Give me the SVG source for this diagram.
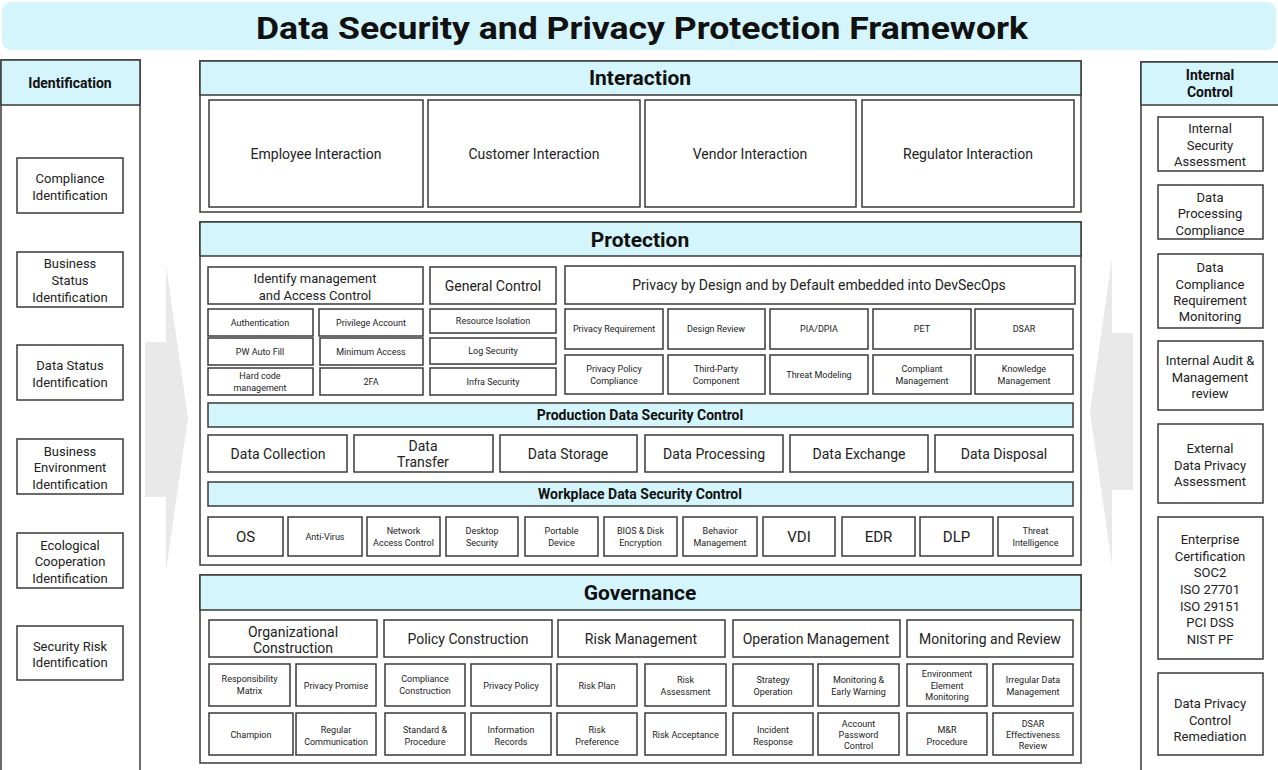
<svg xmlns="http://www.w3.org/2000/svg" width="1278" height="770" viewBox="0 0 1278 770">
<style>
.box{fill:#fff;stroke:#3a3a3a;stroke-width:1.5}
.hdr{fill:#d4f5fb;stroke:#3a3a3a;stroke-width:1.5}
.t{font-family:Roboto,"Liberation Sans",sans-serif;fill:#222;text-anchor:middle;dominant-baseline:central}
.b{font-weight:bold;fill:#111}
.s9{font-size:9px}
.s13{font-size:13px}
.s14{font-size:14px}
.s15{font-size:15px}
.h20{font-size:21px;font-weight:bold;fill:#111}
.arrow{fill:#e9e9e9}
</style>
<rect width="1278" height="770" fill="#fff"/>
<g id="connectors">
<polygon class="arrow" points="145,342 166,342 166,265 188,418 166,571 166,497 145,497"/>
<polygon class="arrow" points="1133,333 1112,333 1112,258 1090,412 1112,565 1112,490 1133,490"/>
</g>
<g id="title">
<rect x="2" y="2" width="1274" height="48" rx="9" fill="#d4f5fb"/>
<text class="t b" x="642" y="28" font-size="32" textLength="772" lengthAdjust="spacingAndGlyphs">Data Security and Privacy Protection Framework</text>
</g>
<g id="identification">
<rect class="box" x="1" y="60" width="139" height="715"/>
<rect class="hdr" x="1" y="60" width="139" height="45"/>
<text class="t b s14" x="70" y="83">Identification</text>
<g id="id-compliance"><rect class="box" x="17" y="158" width="106" height="55"/><text class="t s13"><tspan x="70" y="178">Compliance</tspan><tspan x="70" y="195">Identification</tspan></text></g>
<g id="id-business-status"><rect class="box" x="17" y="252" width="106" height="55"/><text class="t s13"><tspan x="70" y="263">Business</tspan><tspan x="70" y="280">Status</tspan><tspan x="70" y="297">Identification</tspan></text></g>
<g id="id-data-status"><rect class="box" x="17" y="345" width="106" height="55"/><text class="t s13"><tspan x="70" y="365">Data Status</tspan><tspan x="70" y="382">Identification</tspan></text></g>
<g id="id-business-env"><rect class="box" x="17" y="439" width="106" height="55"/><text class="t s13"><tspan x="70" y="451">Business</tspan><tspan x="70" y="467">Environment</tspan><tspan x="70" y="484">Identification</tspan></text></g>
<g id="id-ecological"><rect class="box" x="17" y="533" width="106" height="55"/><text class="t s13"><tspan x="70" y="545">Ecological</tspan><tspan x="70" y="561">Cooperation</tspan><tspan x="70" y="578">Identification</tspan></text></g>
<g id="id-security-risk"><rect class="box" x="17" y="626" width="106" height="54"/><text class="t s13"><tspan x="70" y="646">Security Risk</tspan><tspan x="70" y="662">Identification</tspan></text></g>
</g>
<g id="internal-control">
<rect class="box" x="1141" y="62" width="140" height="715"/>
<rect class="hdr" x="1141" y="62" width="140" height="43"/>
<text class="t b s14"><tspan x="1210" y="75">Internal</tspan><tspan x="1210" y="92">Control</tspan></text>
<g id="ic-1"><rect class="box" x="1158" y="117" width="105" height="54"/><text class="t s13"><tspan x="1210" y="128">Internal</tspan><tspan x="1210" y="145">Security</tspan><tspan x="1210" y="161">Assessment</tspan></text></g>
<g id="ic-2"><rect class="box" x="1158" y="185" width="105" height="54"/><text class="t s13"><tspan x="1210" y="197">Data</tspan><tspan x="1210" y="213">Processing</tspan><tspan x="1210" y="230">Compliance</tspan></text></g>
<g id="ic-3"><rect class="box" x="1158" y="254" width="105" height="74"/><text class="t s13"><tspan x="1210" y="267">Data</tspan><tspan x="1210" y="284">Compliance</tspan><tspan x="1210" y="300">Requirement</tspan><tspan x="1210" y="316">Monitoring</tspan></text></g>
<g id="ic-4"><rect class="box" x="1158" y="341" width="105" height="69"/><text class="t s13"><tspan x="1210" y="360">Internal Audit &amp;</tspan><tspan x="1210" y="377">Management</tspan><tspan x="1210" y="393">review</tspan></text></g>
<g id="ic-5"><rect class="box" x="1158" y="424" width="105" height="79"/><text class="t s13"><tspan x="1210" y="448">External</tspan><tspan x="1210" y="465">Data Privacy</tspan><tspan x="1210" y="481">Assessment</tspan></text></g>
<g id="ic-6"><rect class="box" x="1158" y="517" width="105" height="142"/><text class="t s13"><tspan x="1210" y="539">Enterprise</tspan><tspan x="1210" y="556">Certification</tspan><tspan x="1210" y="572">SOC2</tspan><tspan x="1210" y="589">ISO 27701</tspan><tspan x="1210" y="606">ISO 29151</tspan><tspan x="1210" y="622">PCI DSS</tspan><tspan x="1210" y="639">NIST PF</tspan></text></g>
<g id="ic-7"><rect class="box" x="1158" y="673" width="105" height="82"/><text class="t s13"><tspan x="1210" y="703">Data Privacy</tspan><tspan x="1210" y="720">Control</tspan><tspan x="1210" y="736">Remediation</tspan></text></g>
</g>
<g id="interaction">
<rect class="box" x="200" y="61" width="881" height="151"/>
<rect class="hdr" x="200" y="61" width="881" height="34"/>
<text class="t h20" x="640" y="78">Interaction</text>
<g id="int-employee"><rect class="box" x="209" y="100" width="214" height="107"/><text class="t s14" x="316" y="154">Employee Interaction</text></g>
<g id="int-customer"><rect class="box" x="428" y="100" width="212" height="107"/><text class="t s14" x="534" y="154">Customer Interaction</text></g>
<g id="int-vendor"><rect class="box" x="645" y="100" width="211" height="107"/><text class="t s14" x="750" y="154">Vendor Interaction</text></g>
<g id="int-regulator"><rect class="box" x="862" y="100" width="212" height="107"/><text class="t s14" x="968" y="154">Regulator Interaction</text></g>
</g>
<g id="protection">
<rect class="box" x="200" y="222" width="881" height="343"/>
<rect class="hdr" x="200" y="222" width="881" height="34"/>
<text class="t h20" x="640" y="240">Protection</text>
<g id="iam"><rect class="box" x="208" y="267" width="215" height="37"/><text class="t s13"><tspan x="315" y="278">Identify management</tspan><tspan x="315" y="295">and Access Control</tspan></text></g>
<g id="general-control"><rect class="box" x="430" y="267" width="126" height="37"/><text class="t s14" x="493" y="286">General Control</text></g>
<g id="pbd"><rect class="box" x="565" y="266" width="510" height="38"/><text class="t s14" x="819" y="285">Privacy by Design and by Default embedded into DevSecOps</text></g>
<g id="authentication"><rect class="box" x="208" y="309" width="105" height="27"/><text class="t s9" x="260" y="322.5">Authentication</text></g>
<g id="privilege-account"><rect class="box" x="319" y="309" width="104" height="27"/><text class="t s9" x="371" y="322.5">Privilege Account</text></g>
<g id="pw-auto-fill"><rect class="box" x="208" y="338" width="105" height="27"/><text class="t s9" x="260" y="352">PW Auto Fill</text></g>
<g id="minimum-access"><rect class="box" x="320" y="338" width="103" height="27"/><text class="t s9" x="371" y="352">Minimum Access</text></g>
<g id="hard-code"><rect class="box" x="208" y="368" width="105" height="27"/><text class="t s9"><tspan x="260" y="376">Hard code</tspan><tspan x="260" y="388">management</tspan></text></g>
<g id="twofa"><rect class="box" x="320" y="368" width="103" height="27"/><text class="t s9" x="371" y="381.5">2FA</text></g>
<g id="resource-isolation"><rect class="box" x="430" y="309" width="126" height="24"/><text class="t s9" x="493" y="321">Resource Isolation</text></g>
<g id="log-security"><rect class="box" x="430" y="338" width="126" height="26"/><text class="t s9" x="493" y="351">Log Security</text></g>
<g id="infra-security"><rect class="box" x="430" y="368" width="126" height="27"/><text class="t s9" x="493" y="381.5">Infra Security</text></g>
<g id="privacy-requirement"><rect class="box" x="565" y="309" width="98" height="40"/><text class="t s9" x="614" y="329">Privacy Requirement</text></g>
<g id="design-review"><rect class="box" x="668" y="309" width="97" height="40"/><text class="t s9" x="716" y="329">Design Review</text></g>
<g id="pia-dpia"><rect class="box" x="770" y="309" width="98" height="40"/><text class="t s9" x="819" y="329">PIA/DPIA</text></g>
<g id="pet"><rect class="box" x="873" y="309" width="98" height="40"/><text class="t s9" x="922" y="329">PET</text></g>
<g id="dsar"><rect class="box" x="975" y="309" width="98" height="40"/><text class="t s9" x="1024" y="329">DSAR</text></g>
<g id="privacy-policy-compliance"><rect class="box" x="565" y="355" width="98" height="39"/><text class="t s9"><tspan x="614" y="369">Privacy Policy</tspan><tspan x="614" y="381">Compliance</tspan></text></g>
<g id="third-party"><rect class="box" x="668" y="355" width="97" height="39"/><text class="t s9"><tspan x="716" y="369">Third-Party</tspan><tspan x="716" y="381">Component</tspan></text></g>
<g id="threat-modeling"><rect class="box" x="770" y="355" width="98" height="39"/><text class="t s9" x="819" y="375">Threat Modeling</text></g>
<g id="compliant-management"><rect class="box" x="873" y="355" width="98" height="39"/><text class="t s9"><tspan x="922" y="369">Compliant</tspan><tspan x="922" y="381">Management</tspan></text></g>
<g id="knowledge-management"><rect class="box" x="975" y="355" width="98" height="39"/><text class="t s9"><tspan x="1024" y="369">Knowledge</tspan><tspan x="1024" y="381">Management</tspan></text></g>
<g id="production-bar"><rect class="hdr" x="208" y="403" width="865" height="24"/><text class="t b s14" x="640" y="415">Production Data Security Control</text></g>
<g id="data-collection"><rect class="box" x="208" y="435" width="139" height="37"/><text class="t s14" x="278" y="454">Data Collection</text></g>
<g id="data-transfer"><rect class="box" x="354" y="435" width="139" height="37"/><text class="t s14"><tspan x="423" y="446">Data</tspan><tspan x="423" y="462">Transfer</tspan></text></g>
<g id="data-storage"><rect class="box" x="500" y="435" width="137" height="37"/><text class="t s14" x="568" y="454">Data Storage</text></g>
<g id="data-processing"><rect class="box" x="645" y="435" width="138" height="37"/><text class="t s14" x="714" y="454">Data Processing</text></g>
<g id="data-exchange"><rect class="box" x="790" y="435" width="138" height="37"/><text class="t s14" x="859" y="454">Data Exchange</text></g>
<g id="data-disposal"><rect class="box" x="935" y="435" width="138" height="37"/><text class="t s14" x="1004" y="454">Data Disposal</text></g>
<g id="workplace-bar"><rect class="hdr" x="208" y="482" width="865" height="24"/><text class="t b s14" x="640" y="494">Workplace Data Security Control</text></g>
<g id="os"><rect class="box" x="208" y="517" width="75" height="39"/><text class="t s15" x="245.5" y="537">OS</text></g>
<g id="anti-virus"><rect class="box" x="288" y="517" width="74" height="39"/><text class="t s9" x="325" y="537">Anti-Virus</text></g>
<g id="nac"><rect class="box" x="367" y="517" width="73" height="39"/><text class="t s9"><tspan x="403.5" y="531">Network</tspan><tspan x="403.5" y="543">Access Control</tspan></text></g>
<g id="desktop-security"><rect class="box" x="446" y="517" width="72" height="39"/><text class="t s9"><tspan x="482" y="531">Desktop</tspan><tspan x="482" y="543">Security</tspan></text></g>
<g id="portable-device"><rect class="box" x="525" y="517" width="73" height="39"/><text class="t s9"><tspan x="561.5" y="531">Portable</tspan><tspan x="561.5" y="543">Device</tspan></text></g>
<g id="bios"><rect class="box" x="604" y="517" width="73" height="39"/><text class="t s9"><tspan x="640.5" y="531">BIOS &amp; Disk</tspan><tspan x="640.5" y="543">Encryption</tspan></text></g>
<g id="behavior"><rect class="box" x="683" y="517" width="74" height="39"/><text class="t s9"><tspan x="720" y="531">Behavior</tspan><tspan x="720" y="543">Management</tspan></text></g>
<g id="vdi"><rect class="box" x="763" y="517" width="72" height="39"/><text class="t s15" x="799" y="537">VDI</text></g>
<g id="edr"><rect class="box" x="842" y="517" width="73" height="39"/><text class="t s15" x="878.5" y="537">EDR</text></g>
<g id="dlp"><rect class="box" x="920" y="517" width="73" height="39"/><text class="t s15" x="956.5" y="537">DLP</text></g>
<g id="threat-intel"><rect class="box" x="998" y="517" width="75" height="39"/><text class="t s9"><tspan x="1035.5" y="531">Threat</tspan><tspan x="1035.5" y="543">Intelligence</tspan></text></g>
</g>
<g id="governance">
<rect class="box" x="200" y="575" width="881" height="188"/>
<rect class="hdr" x="200" y="575" width="881" height="35"/>
<text class="t h20" x="640" y="593">Governance</text>
<g id="org-construction"><rect class="box" x="209" y="620" width="168" height="37"/><text class="t s14"><tspan x="293" y="632">Organizational</tspan><tspan x="293" y="648">Construction</tspan></text></g>
<g id="policy-construction"><rect class="box" x="384" y="620" width="168" height="37"/><text class="t s14" x="468" y="639">Policy Construction</text></g>
<g id="risk-management"><rect class="box" x="558" y="620" width="167" height="37"/><text class="t s14" x="641" y="639">Risk Management</text></g>
<g id="operation-management"><rect class="box" x="733" y="620" width="167" height="37"/><text class="t s14" x="816" y="639">Operation Management</text></g>
<g id="monitoring-review"><rect class="box" x="907" y="620" width="166" height="37"/><text class="t s14" x="990" y="639">Monitoring and Review</text></g>
<g id="responsibility-matrix"><rect class="box" x="209" y="664" width="81" height="42"/><text class="t s9"><tspan x="249.5" y="679">Responsibility</tspan><tspan x="249.5" y="691">Matrix</tspan></text></g>
<g id="privacy-promise"><rect class="box" x="296" y="664" width="80" height="42"/><text class="t s9" x="336" y="686">Privacy Promise</text></g>
<g id="compliance-construction"><rect class="box" x="385" y="664" width="80" height="42"/><text class="t s9"><tspan x="425" y="679">Compliance</tspan><tspan x="425" y="691">Construction</tspan></text></g>
<g id="privacy-policy"><rect class="box" x="471" y="664" width="80" height="42"/><text class="t s9" x="511" y="686">Privacy Policy</text></g>
<g id="risk-plan"><rect class="box" x="557" y="664" width="80" height="42"/><text class="t s9" x="597" y="686">Risk Plan</text></g>
<g id="risk-assessment"><rect class="box" x="645" y="664" width="81" height="42"/><text class="t s9"><tspan x="685.5" y="680">Risk</tspan><tspan x="685.5" y="692">Assessment</tspan></text></g>
<g id="strategy-operation"><rect class="box" x="733" y="664" width="80" height="42"/><text class="t s9"><tspan x="773" y="680">Strategy</tspan><tspan x="773" y="692">Operation</tspan></text></g>
<g id="monitoring-early-warning"><rect class="box" x="818" y="664" width="81" height="42"/><text class="t s9"><tspan x="858.5" y="680">Monitoring &amp;</tspan><tspan x="858.5" y="692">Early Warning</tspan></text></g>
<g id="env-element-monitoring"><rect class="box" x="907" y="664" width="80" height="42"/><text class="t s9"><tspan x="947" y="674">Environment</tspan><tspan x="947" y="686">Element</tspan><tspan x="947" y="697">Monitoring</tspan></text></g>
<g id="irregular-data"><rect class="box" x="993" y="664" width="80" height="42"/><text class="t s9"><tspan x="1033" y="680">Irregular Data</tspan><tspan x="1033" y="692">Management</tspan></text></g>
<g id="champion"><rect class="box" x="209" y="713" width="84" height="42"/><text class="t s9" x="251" y="735">Champion</text></g>
<g id="regular-communication"><rect class="box" x="296" y="713" width="80" height="42"/><text class="t s9"><tspan x="336" y="730">Regular</tspan><tspan x="336" y="742">Communication</tspan></text></g>
<g id="standard-procedure"><rect class="box" x="385" y="713" width="80" height="42"/><text class="t s9"><tspan x="425" y="730">Standard &amp;</tspan><tspan x="425" y="742">Procedure</tspan></text></g>
<g id="information-records"><rect class="box" x="471" y="713" width="80" height="42"/><text class="t s9"><tspan x="511" y="730">Information</tspan><tspan x="511" y="742">Records</tspan></text></g>
<g id="risk-preference"><rect class="box" x="557" y="713" width="80" height="42"/><text class="t s9"><tspan x="597" y="730">Risk</tspan><tspan x="597" y="742">Preference</tspan></text></g>
<g id="risk-acceptance"><rect class="box" x="645" y="713" width="81" height="42"/><text class="t s9" x="685.5" y="735">Risk Acceptance</text></g>
<g id="incident-response"><rect class="box" x="733" y="713" width="80" height="42"/><text class="t s9"><tspan x="773" y="730">Incident</tspan><tspan x="773" y="742">Response</tspan></text></g>
<g id="account-password"><rect class="box" x="818" y="713" width="81" height="42"/><text class="t s9"><tspan x="858.5" y="724">Account</tspan><tspan x="858.5" y="735">Password</tspan><tspan x="858.5" y="746">Control</tspan></text></g>
<g id="mr-procedure"><rect class="box" x="907" y="713" width="80" height="42"/><text class="t s9"><tspan x="947" y="730">M&amp;R</tspan><tspan x="947" y="742">Procedure</tspan></text></g>
<g id="dsar-review"><rect class="box" x="993" y="713" width="80" height="42"/><text class="t s9"><tspan x="1033" y="724">DSAR</tspan><tspan x="1033" y="735">Effectiveness</tspan><tspan x="1033" y="746">Review</tspan></text></g>
</g>
</svg>
